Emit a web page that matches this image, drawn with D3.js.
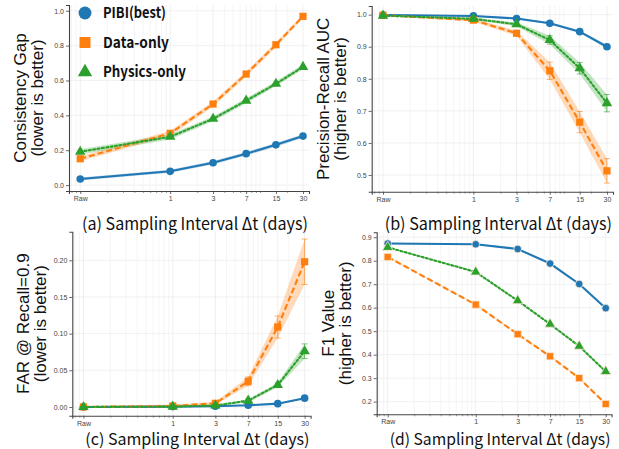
<!DOCTYPE html>
<html>
<head>
<meta charset="utf-8">
<script src="https://cdn.jsdelivr.net/npm/d3@7"></script>
<style>
  body { margin: 0; background: #fff; }
  svg { display: block; }
</style>
</head>
<body>
<svg id="chart" width="619" height="449"></svg>
<script>
// sampling intervals (Raw placed one decade below 1 day on the log axis)
const intervals = [0.1, 1, 3, 7, 15, 30];
const intervalLabels = ["Raw", "1", "3", "7", "15", "30"];
const methods = ["PIBI(best)", "Data-only", "Physics-only"];

// (a) Consistency Gap
const gapPibi = [0.035, 0.079, 0.128, 0.180, 0.231, 0.281];
const gapPibiSd = [0.009, 0.009, 0.010, 0.010, 0.011, 0.011];
const gapData = [0.151, 0.297, 0.465, 0.637, 0.805, 0.968];
const gapDataSd = [0.015, 0.015, 0.015, 0.015, 0.015, 0.012];
const gapPhys = [0.191, 0.277, 0.380, 0.484, 0.581, 0.678];
const gapPhysSd = [0.015, 0.015, 0.014, 0.014, 0.014, 0.013];

// (b) Precision-Recall AUC
const aucPibi = [0.999, 0.996, 0.988, 0.973, 0.947, 0.900];
const aucPibiSd = [0.002, 0.002, 0.003, 0.003, 0.004, 0.006];
const aucData = [0.998, 0.983, 0.942, 0.825, 0.665, 0.513];
const aucDataSd = [0.002, 0.005, 0.008, 0.027, 0.033, 0.038];
const aucPhys = [0.997, 0.987, 0.970, 0.921, 0.833, 0.724];
const aucPhysSd = [0.002, 0.004, 0.006, 0.013, 0.018, 0.027];

// (c) FAR @ Recall=0.9
const farPibi = [0.000, 0.0005, 0.001, 0.0023, 0.0045, 0.012];
const farPibiSd = [0.0003, 0.0003, 0.0005, 0.0005, 0.0008, 0.0015];
const farData = [0.000, 0.0014, 0.005, 0.035, 0.109, 0.198];
const farDataSd = [0.0005, 0.002, 0.002, 0.006, 0.015, 0.031];
const farPhys = [0.000, 0.0005, 0.002, 0.0086, 0.030, 0.076];
const farPhysSd = [0.0003, 0.001, 0.001, 0.002, 0.003, 0.010];

// (d) F1 value
const f1Pibi = [0.873, 0.870, 0.850, 0.788, 0.701, 0.598];
const f1Data = [0.816, 0.613, 0.487, 0.393, 0.300, 0.190];
const f1Phys = [0.857, 0.752, 0.630, 0.530, 0.436, 0.328];
const f1Sd = [0.003, 0.003, 0.003, 0.003, 0.003, 0.003];

const yTicksA = [0.0, 0.2, 0.4, 0.6, 0.8, 1.0];
const yTicksB = [0.5, 0.6, 0.7, 0.8, 0.9, 1.0];
const yTicksC = [0.00, 0.05, 0.10, 0.15, 0.20];
const yTicksD = [0.2, 0.3, 0.4, 0.5, 0.6, 0.7, 0.8, 0.9];

const colors = ["#1f77b4", "#ff7f0e", "#2ca02c"];
const dashes = [null, "6,3", "2,2.4"];
const shapes = [d3.symbolCircle, d3.symbolSquare, d3.symbolTriangle];
const markerSize = [46, 52, 48];

const panels = [
  { vals: [gapPibi, gapData, gapPhys], sd: [gapPibiSd, gapDataSd, gapPhysSd], err: false,
    yDomain: [-0.034, 1.033], yTicks: yTicksA, fmt: ".1f",
    left: 69, right: 309, top: 5, bottom: 191, xlabY: 230, xlabSize: 17,
    ylabel: ["Consistency Gap", "(lower is better)"],
    xlabel: "(a) Sampling Interval \u0394t (days)" },
  { vals: [aucPibi, aucData, aucPhys], sd: [aucPibiSd, aucDataSd, aucPhysSd], err: true,
    yDomain: [0.448, 1.027], yTicks: yTicksB, fmt: ".1f",
    left: 371.7, right: 613, top: 6, bottom: 191.7, xlabY: 230, xlabSize: 17,
    ylabel: ["Precision-Recall AUC", "(higher is better)"],
    xlabel: "(b) Sampling Interval \u0394t (days)" },
  { vals: [farPibi, farData, farPhys], sd: [farPibiSd, farDataSd, farPhysSd], err: true,
    yDomain: [-0.0119, 0.239], yTicks: yTicksC, fmt: ".2f",
    left: 72.3, right: 310.6, top: 231.7, bottom: 415.7, xlabY: 445, xlabSize: 16,
    ylabel: ["FAR @ Recall=0.9", "(lower is better)"],
    xlabel: "(c) Sampling Interval \u0394t (days)" },
  { vals: [f1Pibi, f1Data, f1Phys], sd: [f1Sd, f1Sd, f1Sd], err: false, edge: true,
    yDomain: [0.146, 0.921], yTicks: yTicksD, fmt: ".1f",
    left: 376.7, right: 611.6, top: 232.3, bottom: 414.3, xlabY: 445, xlabSize: 16,
    ylabel: ["F1 Value", "(higher is better)"],
    xlabel: "(d) Sampling Interval \u0394t (days)" }
];

const svg = d3.select("#chart");

// squeeze a text horizontally to a given width, keeping its height
function fitText(sel, x0, y0, width) {
  const w = sel.node().getComputedTextLength();
  sel.attr("transform", "translate(" + x0 + "," + y0 + ") scale(" + (width / w) + ",1)");
}

panels.forEach(function (p) {
  const g = svg.append("g");
  const x = d3.scaleLog().domain([0.075, 35]).range([p.left, p.right]);
  const y = d3.scaleLinear().domain(p.yDomain).range([p.bottom, p.top]);

  // grid: vertical at log ticks, horizontal at y ticks
  const minor = x.ticks().filter(function (t) { return intervals.indexOf(t) < 0; });
  g.selectAll(".vminor").data(minor).join("line")
    .attr("x1", d => x(d)).attr("x2", d => x(d))
    .attr("y1", p.top).attr("y2", p.bottom)
    .attr("stroke", "#efefef").attr("stroke-width", 0.6);
  g.selectAll(".vmajor").data(intervals).join("line")
    .attr("x1", d => x(d)).attr("x2", d => x(d))
    .attr("y1", p.top).attr("y2", p.bottom)
    .attr("stroke", "#e8e8e8").attr("stroke-width", 0.7);
  g.selectAll(".hgrid").data(p.yTicks).join("line")
    .attr("x1", p.left).attr("x2", p.right)
    .attr("y1", d => y(d)).attr("y2", d => y(d))
    .attr("stroke", "#ebebeb").attr("stroke-width", 0.7);

  // axes
  const yAxis = g.append("g").attr("transform", "translate(" + p.left + ",0)")
    .call(d3.axisLeft(y).tickValues(p.yTicks).tickFormat(d3.format(p.fmt)).tickSize(3).tickPadding(2));
  const xAxis = g.append("g").attr("transform", "translate(0," + p.bottom + ")")
    .call(d3.axisBottom(x).tickValues(intervals).tickFormat((d, i) => intervalLabels[i]).tickSize(3).tickPadding(2));
  g.append("g").attr("transform", "translate(0," + p.bottom + ")")
    .call(d3.axisBottom(x).tickValues(minor).tickFormat("").tickSize(2))
    .call(a => a.select(".domain").remove())
    .selectAll("line").attr("stroke", "#555").attr("stroke-width", 0.6);
  [yAxis, xAxis].forEach(function (a) {
    a.select(".domain").attr("stroke", "#444").attr("stroke-width", 1.1);
    a.selectAll(".tick line").attr("stroke", "#444").attr("stroke-width", 0.8);
    a.selectAll("text").attr("font-family", "Liberation Sans, Arial, sans-serif")
      .attr("font-size", 7).attr("fill", "#444");
  });

  // bands
  p.vals.forEach(function (v, k) {
    const band = d3.area()
      .x((d, i) => x(intervals[i]))
      .y0((d, i) => y(d - p.sd[k][i]))
      .y1((d, i) => y(d + p.sd[k][i]));
    g.append("path").datum(v).attr("d", band)
      .attr("fill", colors[k]).attr("fill-opacity", 0.28);
  });

  // lines, error bars, markers
  p.vals.forEach(function (v, k) {
    const line = d3.line().x((d, i) => x(intervals[i])).y(d => y(d));
    g.append("path").datum(v).attr("d", line)
      .attr("fill", "none").attr("stroke", colors[k]).attr("stroke-width", 2.1)
      .attr("stroke-dasharray", dashes[k]).attr("stroke-linecap", k === 2 ? "round" : "butt");

    if (p.err) {
      const eb = g.append("g").attr("stroke", colors[k]).attr("stroke-opacity", 0.6).attr("stroke-width", 1);
      v.forEach(function (d, i) {
        const cx = x(intervals[i]), lo = y(d - p.sd[k][i]), hi = y(d + p.sd[k][i]);
        eb.append("line").attr("x1", cx).attr("x2", cx).attr("y1", lo).attr("y2", hi);
        eb.append("line").attr("x1", cx - 3).attr("x2", cx + 3).attr("y1", lo).attr("y2", lo);
        eb.append("line").attr("x1", cx - 3).attr("x2", cx + 3).attr("y1", hi).attr("y2", hi);
      });
    }

    g.selectAll(".m" + k).data(v).join("path")
      .attr("transform", (d, i) => "translate(" + x(intervals[i]) + "," + y(d) + ")")
      .attr("d", d3.symbol().type(shapes[k]).size(markerSize[k]))
      .attr("fill", colors[k])
      .attr("stroke", p.edge ? "#fde9d9" : "none").attr("stroke-width", 0.8);
  });

  // y label (two lines, rotated)
  const cy = (p.top + p.bottom) / 2;
  p.ylabel.forEach(function (t, j) {
    g.append("text")
      .attr("transform", "translate(" + (p.left - 43 + j * 17) + "," + cy + ") rotate(-90)")
      .attr("text-anchor", "middle")
      .attr("font-family", "Liberation Sans, Arial, sans-serif")
      .attr("font-size", 17).attr("fill", "#111")
      .text(t);
  });

  // x label
  const xl = g.append("text")
    .attr("font-family", "Noto Sans CJK SC, Noto Sans, sans-serif")
    .attr("font-size", p.xlabSize).attr("fill", "#111")
    .text(p.xlabel);
  fitText(xl, p.left + 13, p.xlabY, p.right - 1 - (p.left + 13));
});

// legend in panel (a)
const legendY = [13, 42.5, 72];
const legendW = [63, 66, 83];
const legend = svg.append("g");
methods.forEach(function (m, k) {
  legend.append("path")
    .attr("transform", "translate(85," + legendY[k] + ")")
    .attr("d", d3.symbol().type(shapes[k]).size([130, 120, 90][k]))
    .attr("fill", colors[k]);
  const t = legend.append("text")
    .attr("font-family", "Noto Sans CJK SC, Noto Sans, sans-serif")
    .attr("font-weight", 700)
    .attr("font-size", 15).attr("fill", "#111")
    .text(m);
  fitText(t, 103, legendY[k] + 5, legendW[k]);
});
</script>
</body>
</html>
